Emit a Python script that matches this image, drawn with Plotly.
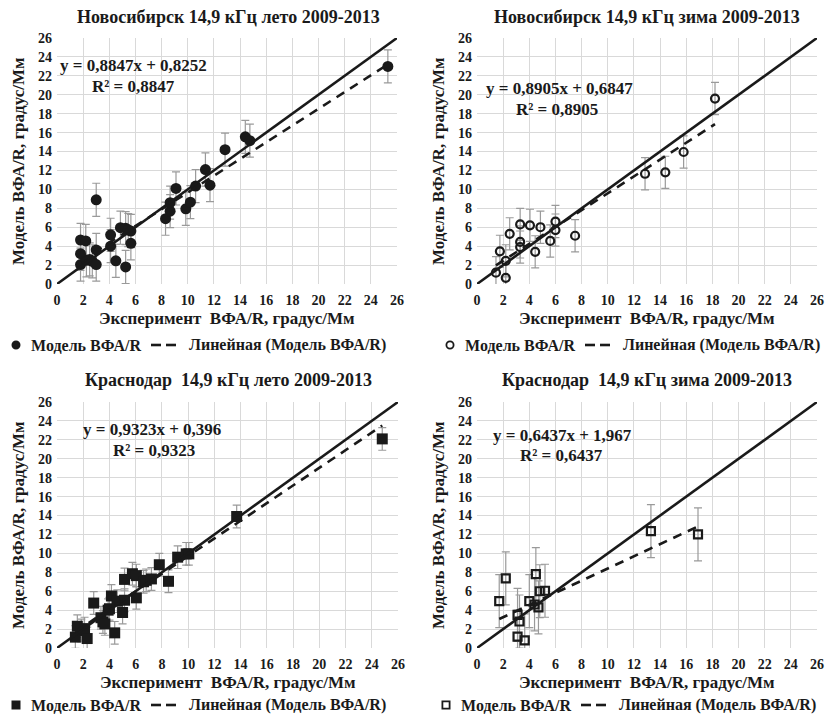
import plotly.graph_objects as go

# ---------------- data ----------------
nsk_summer_x = [1.8, 2.2, 1.8, 1.8, 2.25, 2.5, 2.7, 3.0, 3.0, 3.0, 4.1, 4.1, 4.5, 4.85, 5.25, 5.25,
                5.45, 5.65, 5.65, 8.3, 8.65, 8.65, 9.1, 9.85, 10.2, 10.6, 11.35, 11.7, 12.85, 14.4, 14.75, 25.3]
nsk_summer_y = [4.65, 4.55, 3.2, 2.05, 2.5, 2.6, 2.4, 8.9, 3.6, 2.05, 5.2, 4.0, 2.45, 5.95, 5.9, 1.8,
                5.7, 5.6, 4.3, 6.9, 7.7, 8.6, 10.1, 7.95, 8.65, 10.35, 12.1, 10.45, 14.2, 15.55, 15.15, 23.0]
nsk_summer_err = 1.75

nsk_winter_x = [1.45, 1.75, 2.2, 2.2, 2.5, 3.3, 3.3, 3.3, 4.05, 4.45, 4.85, 5.6, 6.0, 6.0, 7.5,
                12.85, 14.4, 15.8, 18.2]
nsk_winter_y = [1.2, 3.45, 0.65, 2.45, 5.3, 6.3, 4.45, 3.9, 6.2, 3.4, 6.0, 4.55, 6.6, 5.7, 5.1,
                11.65, 11.8, 13.95, 19.6]
nsk_winter_err = 1.7

krd_summer_x = [1.4, 1.55, 1.85, 2.1, 2.3, 2.8, 3.35, 3.5, 3.65, 3.9, 4.0, 4.15, 4.4, 4.6, 5.0, 5.15,
                5.15, 5.75, 6.05, 6.05, 6.6, 6.8, 7.2, 7.8, 8.5, 9.2, 9.85, 10.05, 13.7, 24.8]
krd_summer_y = [1.15, 2.3, 1.85, 2.05, 1.0, 4.75, 3.2, 2.75, 2.55, 4.0, 4.15, 5.5, 1.6, 4.95, 3.75, 5.05,
                7.25, 7.85, 7.65, 5.3, 7.0, 7.15, 7.3, 8.8, 7.05, 9.6, 9.95, 9.95, 13.9, 22.1]
krd_summer_err = 1.2

krd_winter_x = [1.7, 2.2, 3.1, 3.25, 3.1, 3.65, 4.0, 4.5, 4.4, 4.7, 4.8, 5.2, 13.3, 16.9]
krd_winter_y = [4.95, 7.35, 3.5, 2.8, 1.2, 0.8, 4.95, 7.8, 4.6, 4.3, 6.0, 6.05, 12.35, 12.0]
krd_winter_err = 2.8

slopes = [0.8847, 0.8905, 0.9323, 0.6437]
intercepts = [0.8252, 0.6847, 0.396, 1.967]
equations = ["y = 0,8847x + 0,8252", "y = 0,8905x + 0,6847", "y = 0,9323x + 0,396", "y = 0,6437x + 1,967"]
r2_labels = ["R² = 0,8847", "R² = 0,8905", "R² = 0,9323", "R² = 0,6437"]
titles = ["Новосибирск 14,9 кГц лето 2009-2013", "Новосибирск 14,9 кГц зима 2009-2013",
          "Краснодар  14,9 кГц лето 2009-2013", "Краснодар  14,9 кГц зима 2009-2013"]
ticks = list(range(0, 27, 2))
x_title = "Эксперимент  ВФА/R, градус/Мм"
y_title = "Модель ВФА/R, градус/Мм"
series_name = "Модель ВФА/R"
trend_name = "Линейная (Модель ВФА/R)"

# ---------------- layout helpers ----------------
W, H = 839, 719
FONT = "Liberation Serif"
INK = "#1a1a1a"
panels = [
    dict(x=nsk_summer_x, y=nsk_summer_y, e=nsk_summer_err, sym="circle", fill=True, px=(57, 397), py=(38, 284)),
    dict(x=nsk_winter_x, y=nsk_winter_y, e=nsk_winter_err, sym="circle-open", fill=False, px=(477, 817), py=(38, 284)),
    dict(x=krd_summer_x, y=krd_summer_y, e=krd_summer_err, sym="square", fill=True, px=(57, 398), py=(402, 648)),
    dict(x=krd_winter_x, y=krd_winter_y, e=krd_winter_err, sym="square-open", fill=False, px=(477, 817), py=(402, 648)),
]
eq_pos = [((133, 66), (133, 86)), ((559, 89), (557, 109)), ((152, 429), (154, 450)), ((562, 435), (561, 455))]
title_pos = [(228, 17), (647, 17), (228, 380), (647, 380)]
# legend: marker x, y, text1 x, dash start x, text2 x
legend_pos = [(16, 345, 29, 151, 187), (450, 345, 463, 585, 621),
              (16, 705, 29, 151, 187), (446, 705, 459, 581, 617)]


def px2x(v):
    return v / W


def px2y(v):
    return 1 - v / H


fig = go.Figure()
annotations, shapes = [], []
layout = dict(width=W, height=H, margin=dict(l=0, r=0, t=0, b=0, autoexpand=False), paper_bgcolor="white",
              plot_bgcolor="white", showlegend=False, font=dict(family=FONT, color=INK))


def add_text(text, x, y, size, xanchor="center", angle=0):
    annotations.append(dict(text="<b>%s</b>" % text, x=px2x(x), y=px2y(y), xref="paper", yref="paper",
                            xanchor=xanchor, yanchor="middle", showarrow=False, textangle=angle,
                            font=dict(family=FONT, size=size, color=INK)))


for i, p in enumerate(panels):
    n = "" if i == 0 else str(i + 1)
    xa, ya = "x" + n, "y" + n
    fig.add_trace(go.Scatter(
        x=p["x"], y=p["y"], mode="markers", name=series_name, xaxis=xa, yaxis=ya,
        marker=dict(symbol=p["sym"], size=11 if p["fill"] else 8, color=INK,
                    line=dict(color=INK, width=2.2 if not p["fill"] else 0)),
        error_y=dict(type="constant", value=p["e"], color="#9a9a9a", thickness=1.2, width=4)))
    # 1:1 reference line
    fig.add_trace(go.Scatter(x=[ticks[0], ticks[-1]], y=[ticks[0], ticks[-1]], mode="lines",
                             line=dict(color=INK, width=2.6), xaxis=xa, yaxis=ya,
                             showlegend=False, hoverinfo="skip"))
    # linear trend line
    xmin, xmax = min(p["x"]), max(p["x"])
    fig.add_trace(go.Scatter(x=[xmin, xmax], y=[slopes[i] * xmin + intercepts[i], slopes[i] * xmax + intercepts[i]],
                             mode="lines", name=trend_name,
                             line=dict(color=INK, width=2.6, dash="9px,7px"), xaxis=xa, yaxis=ya))
    dx = [px2x(p["px"][0]), px2x(p["px"][1])]
    dy = [px2y(p["py"][1]), px2y(p["py"][0])]
    axis_common = dict(range=[0, 26], tickvals=ticks, showgrid=True, gridcolor="#d9d9d9", gridwidth=1,
                       zeroline=False, showline=False, ticks="", automargin=False,
                       tickfont=dict(family=FONT, size=14, color=INK, weight="bold"), fixedrange=True)
    layout["xaxis" + n] = dict(domain=dx, anchor=ya, ticklabelstandoff=6, **axis_common)
    layout["yaxis" + n] = dict(domain=dy, anchor=xa, ticklabelstandoff=4, **axis_common)

    # titles
    tx, ty = title_pos[i]
    add_text(titles[i], tx, ty, 18)
    # axis titles
    cx = (p["px"][0] + p["px"][1]) / 2
    add_text(x_title, cx, p["py"][1] + 34, 17)
    cy = (p["py"][0] + p["py"][1]) / 2
    add_text(y_title, p["px"][0] - 39, cy, 17, angle=-90)
    # equation labels
    (ex, ey), (rx, ry) = eq_pos[i]
    add_text(equations[i], ex, ey, 17)
    add_text(r2_labels[i], rx, ry, 17)

    # legend (drawn by hand to match the compact Excel legend)
    mx, my, t1, ds, t2 = legend_pos[i]
    r = 3.6
    shapes.append(dict(type="circle" if "circle" in p["sym"] else "rect", xref="paper", yref="paper",
                       x0=px2x(mx - r), x1=px2x(mx + r), y0=px2y(my + r), y1=px2y(my - r),
                       line=dict(color=INK, width=1.8), fillcolor=INK if p["fill"] else "white"))
    add_text(series_name, t1, my, 16, xanchor="left")
    for a, b in [(0, 10), (15, 25)]:
        shapes.append(dict(type="line", xref="paper", yref="paper", x0=px2x(ds + a), x1=px2x(ds + b),
                           y0=px2y(my), y1=px2y(my), line=dict(color=INK, width=2.6)))
    add_text(trend_name, t2, my, 16, xanchor="left")

layout["annotations"] = annotations
layout["shapes"] = shapes
fig.update_layout(**layout)
fig.write_html("out.html", config={"displayModeBar": False},
               post_script="document.body.style.margin='0px';document.body.style.padding='0px';")
